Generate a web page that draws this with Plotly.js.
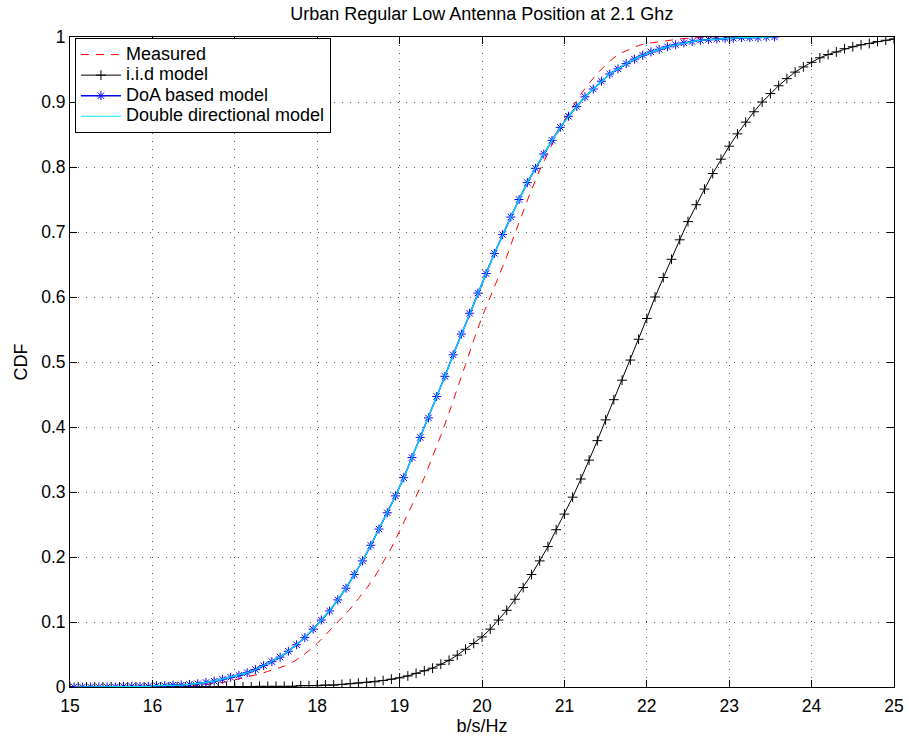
<!DOCTYPE html>
<html>
<head>
<meta charset="utf-8">
<script src="https://cdn.plot.ly/plotly-3.0.1.min.js"></script>
<style>
  html, body { margin: 0; padding: 0; background: #ffffff; }
  #chart { width: 909px; height: 737px; }
</style>
</head>
<body>
<div id="chart"></div>
<script>
// Capacity grid (b/s/Hz) for the measured CDF
const measuredX = [
  15.0, 15.1, 15.2, 15.3, 15.4, 15.5, 15.6, 15.7, 15.8, 15.9,
  16.0, 16.1, 16.2, 16.3, 16.4, 16.5, 16.6, 16.7, 16.8, 16.9,
  17.0, 17.1, 17.2, 17.3, 17.4, 17.5, 17.6, 17.7, 17.8, 17.9,
  18.0, 18.1, 18.2, 18.3, 18.4, 18.5, 18.6, 18.7, 18.8, 18.9,
  19.0, 19.1, 19.2, 19.3, 19.4, 19.5, 19.6, 19.7, 19.8, 19.9,
  20.0, 20.1, 20.2, 20.3, 20.4, 20.5, 20.6, 20.7, 20.8, 20.9,
  21.0, 21.1, 21.2, 21.3, 21.4, 21.5, 21.6, 21.7, 21.8, 21.9,
  22.0, 22.1, 22.2, 22.3, 22.4, 22.5, 22.6, 22.7, 22.8, 22.9,
  23.0
];
const measuredCdf = [
  0.000, 0.000, 0.000, 0.000, 0.000, 0.000, 0.000, 0.000, 0.000, 0.000,
  0.000, 0.000, 0.000, 0.000, 0.000, 0.002, 0.003, 0.005, 0.006, 0.008,
  0.011, 0.013, 0.016, 0.020, 0.024, 0.028, 0.032, 0.038, 0.046, 0.056,
  0.067, 0.080, 0.093, 0.106, 0.120, 0.136, 0.152, 0.170, 0.191, 0.214,
  0.240, 0.266, 0.293, 0.322, 0.354, 0.387, 0.422, 0.458, 0.496, 0.534,
  0.569, 0.600, 0.630, 0.662, 0.698, 0.732, 0.765, 0.795, 0.822, 0.848,
  0.872, 0.893, 0.912, 0.929, 0.944, 0.957, 0.968, 0.976, 0.982, 0.987,
  0.990, 0.992, 0.994, 0.996, 0.997, 0.998, 0.999, 1.000, 1.000, 1.000,
  1.000
];

// i.i.d. channel model
const iidX = [
  15.0, 15.1, 15.2, 15.3, 15.4, 15.5, 15.6, 15.7, 15.8, 15.9,
  16.0, 16.1, 16.2, 16.3, 16.4, 16.5, 16.6, 16.7, 16.8, 16.9,
  17.0, 17.1, 17.2, 17.3, 17.4, 17.5, 17.6, 17.7, 17.8, 17.9,
  18.0, 18.1, 18.2, 18.3, 18.4, 18.5, 18.6, 18.7, 18.8, 18.9,
  19.0, 19.1, 19.2, 19.3, 19.4, 19.5, 19.6, 19.7, 19.8, 19.9,
  20.0, 20.1, 20.2, 20.3, 20.4, 20.5, 20.6, 20.7, 20.8, 20.9,
  21.0, 21.1, 21.2, 21.3, 21.4, 21.5, 21.6, 21.7, 21.8, 21.9,
  22.0, 22.1, 22.2, 22.3, 22.4, 22.5, 22.6, 22.7, 22.8, 22.9,
  23.0, 23.1, 23.2, 23.3, 23.4, 23.5, 23.6, 23.7, 23.8, 23.9,
  24.0, 24.1, 24.2, 24.3, 24.4, 24.5, 24.6, 24.7, 24.8, 24.9,
  25.0
];
const iidCdf = [
  0.000, 0.000, 0.000, 0.000, 0.000, 0.000, 0.000, 0.000, 0.000, 0.000,
  0.000, 0.000, 0.000, 0.000, 0.000, 0.000, 0.000, 0.000, 0.000, 0.000,
  0.000, 0.000, 0.000, 0.001, 0.001, 0.001, 0.001, 0.001, 0.002, 0.002,
  0.002, 0.003, 0.003, 0.004, 0.005, 0.006, 0.007, 0.008, 0.010, 0.012,
  0.014, 0.017, 0.021, 0.025, 0.029, 0.035, 0.041, 0.049, 0.058, 0.067,
  0.077, 0.089, 0.103, 0.118, 0.135, 0.153, 0.173, 0.194, 0.216, 0.242,
  0.266, 0.292, 0.320, 0.349, 0.379, 0.411, 0.442, 0.472, 0.503, 0.535,
  0.567, 0.600, 0.630, 0.658, 0.688, 0.716, 0.742, 0.766, 0.790, 0.812,
  0.832, 0.851, 0.869, 0.885, 0.900, 0.913, 0.925, 0.936, 0.946, 0.954,
  0.961, 0.968, 0.973, 0.977, 0.982, 0.985, 0.988, 0.990, 0.993, 0.995,
  0.997
];

// DoA based model and double directional model share one capacity grid
const modelX = [
  15.05, 15.15, 15.25, 15.35, 15.45, 15.55, 15.65, 15.75, 15.85, 15.95,
  16.05, 16.15, 16.25, 16.35, 16.45, 16.55, 16.65, 16.75, 16.85, 16.95,
  17.05, 17.15, 17.25, 17.35, 17.45, 17.55, 17.65, 17.75, 17.85, 17.95,
  18.05, 18.15, 18.25, 18.35, 18.45, 18.55, 18.65, 18.75, 18.85, 18.95,
  19.05, 19.15, 19.25, 19.35, 19.45, 19.55, 19.65, 19.75, 19.85, 19.95,
  20.05, 20.15, 20.25, 20.35, 20.45, 20.55, 20.65, 20.75, 20.85, 20.95,
  21.05, 21.15, 21.25, 21.35, 21.45, 21.55, 21.65, 21.75, 21.85, 21.95,
  22.05, 22.15, 22.25, 22.35, 22.45, 22.55, 22.65, 22.75, 22.85, 22.95,
  23.05, 23.15, 23.25, 23.35, 23.45, 23.55
];
const doaCdf = [
  0.000, 0.000, 0.000, 0.000, 0.000, 0.000, 0.001, 0.001, 0.001, 0.001,
  0.002, 0.002, 0.003, 0.003, 0.004, 0.005, 0.007, 0.009, 0.012, 0.015,
  0.018, 0.022, 0.027, 0.033, 0.039, 0.046, 0.055, 0.065, 0.076, 0.089,
  0.103, 0.117, 0.134, 0.152, 0.173, 0.194, 0.218, 0.243, 0.268, 0.294,
  0.322, 0.353, 0.384, 0.414, 0.447, 0.478, 0.511, 0.543, 0.575, 0.606,
  0.636, 0.667, 0.696, 0.723, 0.750, 0.776, 0.798, 0.820, 0.841, 0.861,
  0.878, 0.893, 0.908, 0.920, 0.932, 0.943, 0.951, 0.959, 0.966, 0.972,
  0.977, 0.981, 0.985, 0.988, 0.991, 0.993, 0.995, 0.996, 0.997, 0.998,
  0.998, 0.999, 0.999, 0.999, 1.000, 1.000
];
const doubleDirCdf = [
  0.000, 0.000, 0.000, 0.000, 0.000, 0.000, 0.001, 0.001, 0.001, 0.001,
  0.002, 0.002, 0.003, 0.003, 0.004, 0.005, 0.007, 0.009, 0.012, 0.015,
  0.018, 0.022, 0.027, 0.033, 0.039, 0.046, 0.055, 0.065, 0.076, 0.089,
  0.103, 0.117, 0.134, 0.152, 0.173, 0.194, 0.218, 0.243, 0.268, 0.294,
  0.322, 0.353, 0.384, 0.414, 0.447, 0.478, 0.511, 0.543, 0.575, 0.606,
  0.636, 0.667, 0.696, 0.723, 0.750, 0.776, 0.798, 0.820, 0.841, 0.861,
  0.878, 0.893, 0.908, 0.920, 0.932, 0.943, 0.951, 0.959, 0.966, 0.972,
  0.977, 0.981, 0.985, 0.988, 0.991, 0.993, 0.995, 0.996, 0.997, 0.998,
  0.998, 0.999, 0.999, 0.999, 1.000, 1.000
];

const seriesNames = ['Measured', 'i.i.d model', 'DoA based model', 'Double directional model'];

const FONT = '"Liberation Sans", Arial, Helvetica, sans-serif';

// Legend rows are spaced by the legend font size; the label itself is drawn larger.
const legendLabel = name => '<span style="font-size:18px">' + name + '</span>';

const traces = [
  {
    x: measuredX, y: measuredCdf, name: legendLabel(seriesNames[0]),
    type: 'scatter', mode: 'lines',
    line: { color: '#ff0000', width: 1, dash: '8px,7px' }
  },
  {
    x: iidX, y: iidCdf, name: legendLabel(seriesNames[1]),
    type: 'scatter', mode: 'lines+markers',
    line: { color: '#000000', width: 1 },
    marker: { symbol: 'cross-thin-open', size: 7, color: '#000000',
              line: { color: '#000000', width: 1 } }
  },
  {
    x: modelX, y: doaCdf, name: legendLabel(seriesNames[2]),
    type: 'scatter', mode: 'lines+markers',
    line: { color: '#0000ff', width: 1.5 },
    marker: { symbol: 'asterisk-open', size: 7.5, color: '#0000ff',
              line: { color: '#0000ff', width: 1 } }
  },
  {
    x: modelX, y: doubleDirCdf, name: legendLabel(seriesNames[3]),
    type: 'scatter', mode: 'lines',
    line: { color: '#00e5ff', width: 1.2 }
  }
];

const axisCommon = {
  showline: true, linecolor: '#000000', linewidth: 1, mirror: 'ticks',
  ticks: 'inside', ticklen: 7, tickwidth: 1, tickcolor: '#000000',
  showgrid: true, gridcolor: '#555555', gridwidth: 1, griddash: '1px,7px',
  zeroline: false, fixedrange: true,
  tickfont: { family: FONT, size: 17.5, color: '#000000' }
};

const layout = {
  width: 909, height: 737,
  margin: { l: 70, r: 15, t: 37, b: 50, pad: 0 },
  paper_bgcolor: '#ffffff', plot_bgcolor: '#ffffff',
  font: { family: FONT, color: '#000000' },
  title: {
    text: 'Urban Regular Low Antenna Position at 2.1 Ghz',
    font: { family: FONT, size: 18, color: '#000000' },
    x: 0.53, xref: 'container', y: 0.982, yref: 'container',
    xanchor: 'center', yanchor: 'middle'
  },
  xaxis: Object.assign({}, axisCommon, {
    range: [15, 25], tick0: 15, dtick: 1, ticklabelstandoff: 3,
    title: { text: 'b/s/Hz', font: { family: FONT, size: 18 }, standoff: 0 }
  }),
  yaxis: Object.assign({}, axisCommon, {
    range: [0, 1], tick0: 0, dtick: 0.1,
    title: { text: 'CDF', font: { family: FONT, size: 18 }, standoff: 8 }
  }),
  showlegend: true,
  legend: {
    x: 0.006, y: 0.998, xanchor: 'left', yanchor: 'top',
    bgcolor: '#ffffff', bordercolor: '#000000', borderwidth: 1,
    font: { family: FONT, size: 13.5, color: '#000000' },
    tracegroupgap: 0, itemwidth: 40
  }
};

Plotly.newPlot('chart', traces, layout, { displayModeBar: false, staticPlot: true });
</script>
</body>
</html>
